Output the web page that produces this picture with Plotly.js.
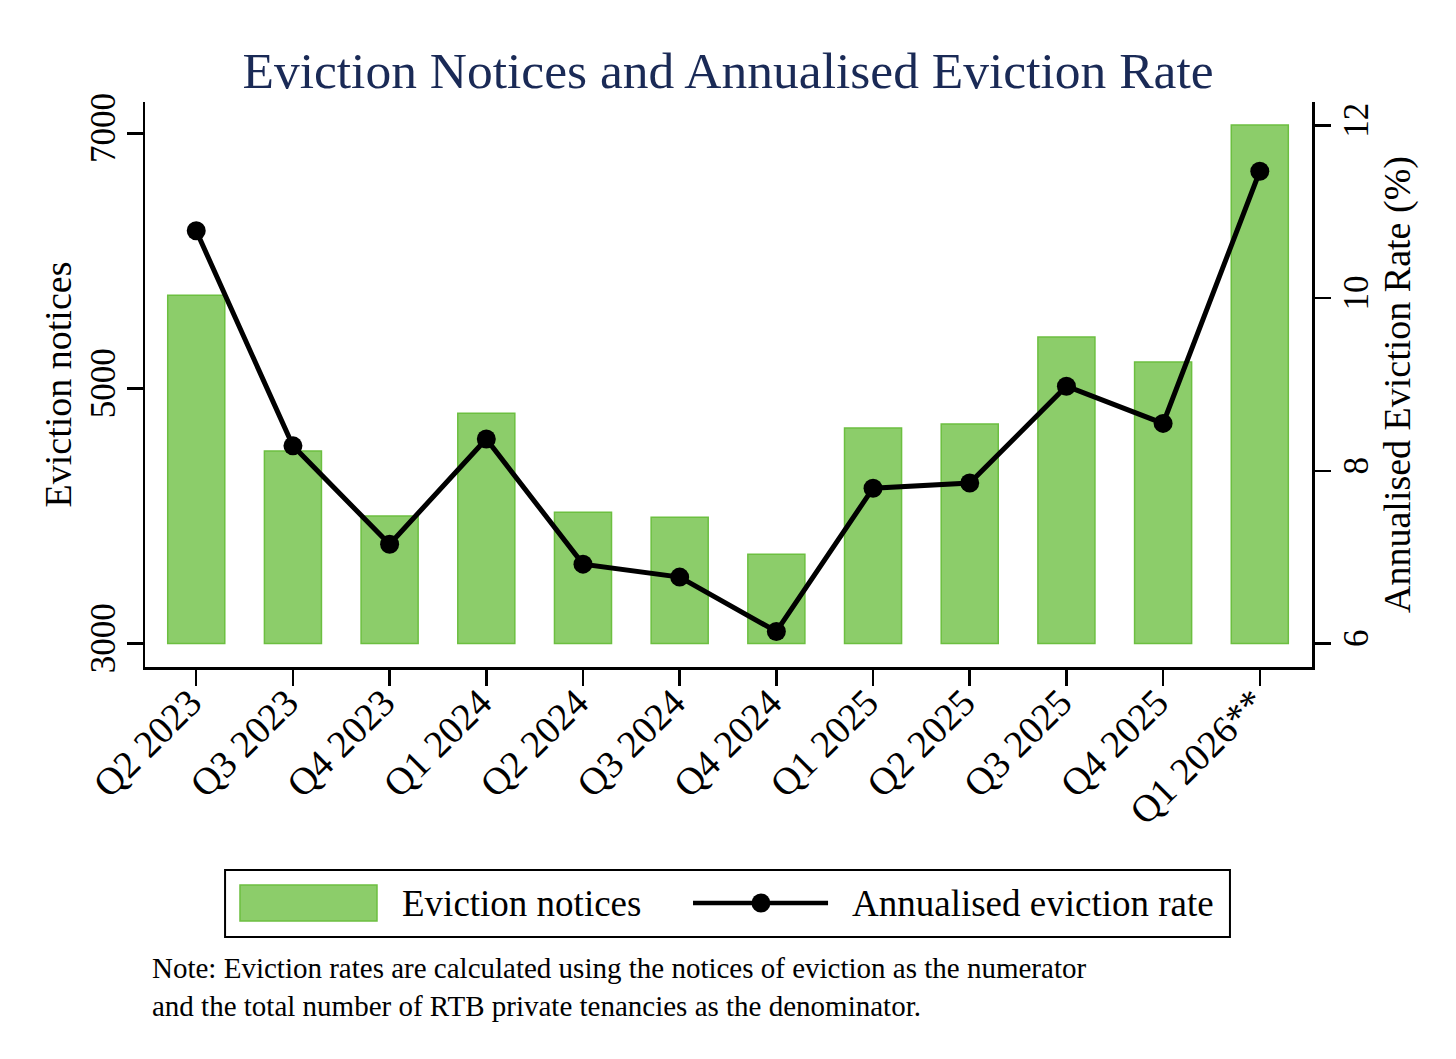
<!DOCTYPE html>
<html>
<head>
<meta charset="utf-8">
<script src="https://cdn.plot.ly/plotly-3.0.1.min.js"></script>
<style>
  html, body { margin: 0; padding: 0; background: #ffffff; }
  #chart { width: 1456px; height: 1059px; }
</style>
</head>
<body>
<div id="chart"></div>
<script>
const quarters = ["Q2 2023", "Q3 2023", "Q4 2023", "Q1 2024", "Q2 2024", "Q3 2024",
                  "Q4 2024", "Q1 2025", "Q2 2025", "Q3 2025", "Q4 2025", "Q1 2026**"];
const evictionNotices = [5730, 4510, 4000, 4806, 4030, 3990, 3700, 4689, 4720, 5402, 5206, 7065];
const evictionRate = [10.78, 8.29, 7.15, 8.37, 6.92, 6.77, 6.14, 7.80, 7.86, 8.98, 8.55, 11.47];
const leftTicks = [3000, 5000, 7000];
const rightTicks = [6, 8, 10, 12];
const barBase = 3000;

const FONT = "Liberation Serif, Times New Roman, serif";
const barFill = "#8ccd6a";
const barLine = "#6cbf40";

const traces = [
  {
    type: "bar",
    x: quarters,
    y: evictionNotices.map(v => v - barBase),
    base: barBase,
    customdata: evictionNotices,
    hovertemplate: "%{x}: %{customdata}<extra></extra>",
    name: "Eviction notices",
    marker: { color: barFill, line: { color: barLine, width: 1.5 } },
    width: 0.59,
    yaxis: "y",
    showlegend: false
  },
  {
    type: "scatter",
    mode: "lines+markers",
    x: quarters,
    y: evictionRate,
    name: "Annualised eviction rate",
    line: { color: "#000000", width: 5 },
    marker: { color: "#000000", size: 19 },
    yaxis: "y2",
    showlegend: false
  }
];

const layout = {
  width: 1456,
  height: 1059,
  paper_bgcolor: "#ffffff",
  plot_bgcolor: "#ffffff",
  font: { family: FONT, color: "#000000", size: 35 },
  margin: { l: 145, r: 144, t: 102, b: 392 },
  showlegend: false,
  title: {
    text: "Eviction Notices and Annualised Eviction Rate",
    font: { family: FONT, size: 51.5, color: "#1a2a56" },
    x: 0.5, xanchor: "center",
    y: 0.934, yanchor: "middle"
  },
  xaxis: {
    type: "category",
    range: [-0.53, 11.54],
    tickangle: -45,
    ticks: "outside",
    ticklen: 16,
    tickwidth: 2.5,
    tickcolor: "#000000",
    ticklabelstandoff: -21,
    ticklabelshift: -6,
    showline: true,
    linecolor: "#000000",
    linewidth: 2.5,
    showgrid: false,
    zeroline: false,
    tickfont: { family: FONT, size: 38.5, color: "#000000" },
    fixedrange: true
  },
  yaxis: {
    range: [2816, 7245],
    tickvals: leftTicks,
    ticktext: leftTicks.map(String),
    tickangle: -90,
    ticks: "outside",
    ticklen: 16,
    tickwidth: 2.5,
    tickcolor: "#000000",
    ticklabelstandoff: -2,
    showline: true,
    linecolor: "#000000",
    linewidth: 2.5,
    showgrid: false,
    zeroline: false,
    tickfont: { family: FONT, size: 35, color: "#000000" },
    title: { text: "Eviction notices", font: { family: FONT, size: 38, color: "#000000" }, standoff: 0 },
    fixedrange: true
  },
  yaxis2: {
    overlaying: "y",
    side: "right",
    range: [5.729, 12.272],
    tickvals: rightTicks,
    ticktext: rightTicks.map(String),
    tickangle: -90,
    ticks: "outside",
    ticklen: 16,
    tickwidth: 2.5,
    tickcolor: "#000000",
    ticklabelstandoff: -5,
    showline: true,
    linecolor: "#000000",
    linewidth: 2.5,
    showgrid: false,
    zeroline: false,
    tickfont: { family: FONT, size: 35, color: "#000000" },
    title: { text: "Annualised Eviction Rate (%)", font: { family: FONT, size: 38, color: "#000000" }, standoff: 0 },
    fixedrange: true
  },
  shapes: [
    { type: "rect", xref: "paper", yref: "paper", x0: 0.0686, x1: 0.9297, y0: -0.4779, y1: -0.3593,
      line: { color: "#000000", width: 2 }, fillcolor: "rgba(0,0,0,0)" },
    { type: "rect", xref: "paper", yref: "paper", x0: 0.0814, x1: 0.1988, y0: -0.4496, y1: -0.3858,
      line: { color: barLine, width: 1.5 }, fillcolor: barFill },
    { type: "line", xref: "paper", yref: "paper", x0: 0.4696, x1: 0.5853, y0: -0.4177, y1: -0.4177,
      line: { color: "#000000", width: 4.5 } },
    { type: "circle", xref: "paper", yref: "paper", x0: 0.5278 - 0.0081, x1: 0.5278 + 0.0081,
      y0: -0.4177 - 0.0168, y1: -0.4177 + 0.0168, line: { color: "#000000", width: 0 }, fillcolor: "#000000" }
  ],
  annotations: [
    { xref: "paper", yref: "paper", x: 0.2185, y: -0.4177, xanchor: "left", yanchor: "middle",
      text: "Eviction notices", showarrow: false, font: { family: FONT, size: 37, color: "#000000" } },
    { xref: "paper", yref: "paper", x: 0.6040, y: -0.4177, xanchor: "left", yanchor: "middle",
      text: "Annualised eviction rate", showarrow: false, font: { family: FONT, size: 37, color: "#000000" } },
    { xref: "paper", yref: "paper", x: 0.0043, y: -0.5655, xanchor: "left", yanchor: "middle", align: "left",
      text: "Note: Eviction rates are calculated using the notices of eviction as the numerator<br>and the total number of RTB private tenancies as the denominator.",
      showarrow: false, font: { family: FONT, size: 29, color: "#000000" } }
  ]
};

Plotly.newPlot("chart", traces, layout, { displayModeBar: false, staticPlot: true });
</script>
</body>
</html>
